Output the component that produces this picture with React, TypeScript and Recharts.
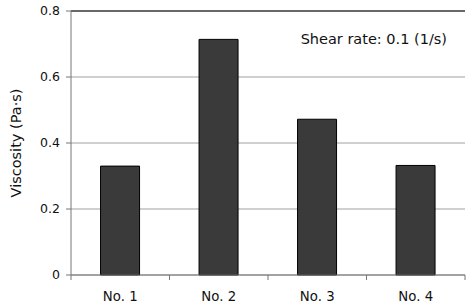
import { BarChart, Bar, XAxis, YAxis, CartesianGrid, ReferenceLine } from 'recharts'

const samples = ['No. 1', 'No. 2', 'No. 3', 'No. 4']
const viscosity = [0.33, 0.714, 0.472, 0.332]
const yTicks = [0, 0.2, 0.4, 0.6, 0.8]

const data = samples.map((name, i) => ({ name, viscosity: viscosity[i] }))

const FONT = '"DejaVu Sans", "Noto Sans", sans-serif'
const BAND = (470 - 71 - 5) / samples.length

function CatTick(props: any) {
  const { x, y, payload } = props
  const top = y - 8
  return (
    <g>
      <line x1={x - BAND / 2} x2={x - BAND / 2} y1={top} y2={top + 5} stroke="#777" />
      {payload.index === samples.length - 1 && (
        <line x1={x + BAND / 2} x2={x + BAND / 2} y1={top} y2={top + 5} stroke="#777" />
      )}
      <text x={x} y={top + 26} textAnchor="middle" fontSize={13.3} fill="#111" fontFamily={FONT}>
        {payload.value}
      </text>
    </g>
  )
}

export default function App() {
  return (
    <div style={{ position: 'fixed', left: 0, top: 0, width: 470, height: 306, background: '#fff' }}>
      <BarChart width={470} height={306} data={data} barCategoryGap="30%"
        margin={{ top: 11, right: 5, left: 0, bottom: 0 }}>
        <CartesianGrid vertical={false} stroke="#a0a0a0" />
        <XAxis dataKey="name" height={31} interval={0} axisLine={{ stroke: '#777' }}
          tickLine={false} tick={<CatTick />} />
        <XAxis xAxisId="top" orientation="top" dataKey="name" height={0} tick={false}
          tickLine={false} axisLine={{ stroke: '#000' }} />
        <YAxis domain={[0, 0.8]} ticks={yTicks} width={71} axisLine={{ stroke: '#777' }}
          tickLine={{ stroke: '#777' }} tickSize={5}
          tick={{ fontSize: 12.5, fill: '#111', fontFamily: FONT, dx: -4 }}
          tickFormatter={(v) => (v === 0 ? '0' : v.toFixed(1))}
          label={{ value: 'Viscosity (Pa·s)', angle: -90, position: 'insideLeft', offset: 16,
            style: { textAnchor: 'middle', fontSize: 14.5, fill: '#111', fontFamily: FONT } }} />
        <YAxis yAxisId="right" orientation="right" domain={[0, 0.8]} width={0} tick={false}
          tickLine={false} axisLine={{ stroke: '#000' }} />
        <ReferenceLine y={0.8} stroke="#000"
          label={{ value: 'Shear rate: 0.1 (1/s)', position: 'insideTopRight', offset: 0, dx: -18, dy: 23,
            style: { fontSize: 14.5, fill: '#111', fontFamily: FONT } }} />
        <Bar dataKey="viscosity" fill="#3a3a3a" stroke="#000" strokeWidth={1} isAnimationActive={false} />
      </BarChart>
    </div>
  )
}
